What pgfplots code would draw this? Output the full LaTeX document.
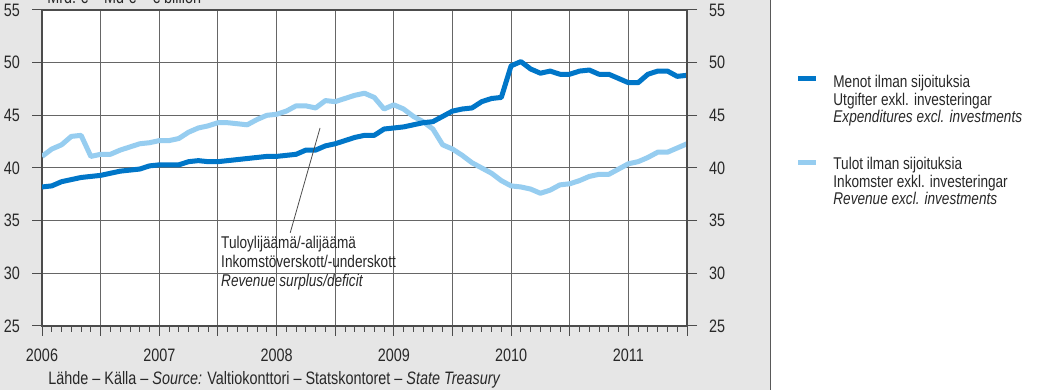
\documentclass[border=0pt]{standalone}
\usepackage{pgfplots}
\pgfplotsset{compat=1.18}
\usepackage{fontspec}
\setmainfont[FakeStretch=0.8]{Liberation Sans}
\definecolor{expc}{RGB}{0,118,200}
\definecolor{revc}{RGB}{150,205,240}
\definecolor{panel}{RGB}{230,230,230}
\definecolor{txt}{RGB}{40,40,40}
\pgfplotstableread{
m v
0 38.2
1 38.3
2 38.7
3 38.9
4 39.1
5 39.2
6 39.3
7 39.5
8 39.7
9 39.8
10 39.9
11 40.2
12 40.3
13 40.3
14 40.3
15 40.6
16 40.7
17 40.6
18 40.6
19 40.7
20 40.8
21 40.9
22 41.0
23 41.1
24 41.1
25 41.2
26 41.3
27 41.7
28 41.7
29 42.1
30 42.3
31 42.6
32 42.9
33 43.1
34 43.1
35 43.7
36 43.8
37 43.9
38 44.1
39 44.3
40 44.4
41 44.9
42 45.4
43 45.6
44 45.7
45 46.3
46 46.6
47 46.7
48 49.7
49 50.1
50 49.4
51 49.0
52 49.2
53 48.9
54 48.9
55 49.2
56 49.3
57 48.9
58 48.9
59 48.5
60 48.1
61 48.1
62 48.9
63 49.2
64 49.2
65 48.7
66 48.8
}\expdata
\pgfplotstableread{
m v
0 41.1
1 41.8
2 42.2
3 43.0
4 43.1
5 41.1
6 41.3
7 41.3
8 41.7
9 42.0
10 42.3
11 42.4
12 42.6
13 42.6
14 42.8
15 43.4
16 43.8
17 44.0
18 44.3
19 44.3
20 44.2
21 44.1
22 44.6
23 45.0
24 45.1
25 45.4
26 45.9
27 45.9
28 45.7
29 46.4
30 46.3
31 46.6
32 46.9
33 47.1
34 46.7
35 45.6
36 46.0
37 45.6
38 44.9
39 44.4
40 43.7
41 42.2
42 41.8
43 41.2
44 40.5
45 40.0
46 39.5
47 38.8
48 38.3
49 38.2
50 38.0
51 37.6
52 37.9
53 38.4
54 38.5
55 38.8
56 39.2
57 39.4
58 39.4
59 39.9
60 40.4
61 40.6
62 41.0
63 41.5
64 41.5
65 41.9
66 42.3
}\revdata
\begin{document}
\begin{tikzpicture}[x=1pt,y=1pt]
\fill[panel] (0,0) rectangle (385.3,195);
\fill[white] (385.3,0) rectangle (519,195);
\draw[black!65, line width=0.6pt] (385.3,0) -- (385.3,195);
\node[anchor=base west, inner sep=0, text=txt, font=\fontsize{9}{10}\selectfont] at (23.5,193.3) {Mrd.\ € – Md € – € billion};
\begin{axis}[at={(21pt,32pt)}, anchor=south west, scale only axis,
  width=322.5pt, height=158pt,
  xmin=0, xmax=66, ymin=25, ymax=55,
  axis background/.style={fill=white},
  xtick={0,6,...,66}, xticklabels={2006,,2007,,2008,,2009,,2010,,2011,},
  minor xtick={0,1,...,66},
  ytick={25,30,...,55},
  grid=major, grid style={black!60, line width=0.5pt},
  axis line style={black!70, line width=0.6pt},
  tick align=outside, xtick pos=bottom, ytick pos=left,
  major tick length=5pt, minor tick length=3pt,
  tick style={black!70, line width=0.5pt},
  minor tick style={black!70, line width=0.45pt},
  /pgf/number format/assume math mode=true,
  tick label style={font=\fontsize{9}{10}\selectfont, text=txt},
  yticklabel style={xshift=-2.5pt},
  xticklabel style={yshift=-3pt},
]
\addplot[revc, line width=2.5pt, line join=round] table[x=m,y=v] {\revdata};
\addplot[expc, line width=2.5pt, line join=round] table[x=m,y=v] {\expdata};
\draw[black!70, line width=0.4pt] (axis cs:28.45,43.8) -- (axis cs:25.4,33.85);
\node[anchor=north west, align=left, inner sep=0, text=txt, font=\fontsize{8.5}{9.5}\selectfont] at (axis cs:18.3,33.6) {Tuloylijäämä/-alijäämä\\Inkomstöverskott/-underskott\\\textit{Revenue surplus/deficit}};
\end{axis}
\begin{axis}[at={(21pt,32pt)}, anchor=south west, scale only axis,
  width=322.5pt, height=158pt,
  xmin=0, xmax=66, ymin=25, ymax=55,
  axis x line=none, axis y line*=right,
  ytick={25,30,...,55},
  axis line style={black!70, line width=0.6pt},
  tick align=outside, major tick length=5pt,
  tick style={black!70, line width=0.5pt},
  /pgf/number format/assume math mode=true,
  tick label style={font=\fontsize{9}{10}\selectfont, text=txt},
  yticklabel style={xshift=2.5pt},
]
\end{axis}
\node[anchor=base west, inner sep=0, text=txt, font=\fontsize{9}{10}\selectfont] at (24,2.75) {Lähde – Källa – \textit{Source:} Valtiokonttori – Statskontoret – \textit{State Treasury}};
\draw[expc, line width=2.5pt] (399,155.5) -- (408,155.5);
\node[anchor=north west, align=left, inner sep=0, text=txt, font=\fontsize{8.5}{8.75}\selectfont] at (416.5,157.5) {Menot ilman sijoituksia\\Utgifter exkl. investeringar\\\textit{Expenditures excl. investments}};
\draw[revc, line width=2.5pt] (399,113.85) -- (408,113.85);
\node[anchor=north west, align=left, inner sep=0, text=txt, font=\fontsize{8.5}{8.75}\selectfont] at (416.5,116.5) {Tulot ilman sijoituksia\\Inkomster exkl. investeringar\\\textit{Revenue excl. investments}};
\pgfresetboundingbox
\useasboundingbox (0,0) rectangle (519,195);
\end{tikzpicture}
\end{document}
